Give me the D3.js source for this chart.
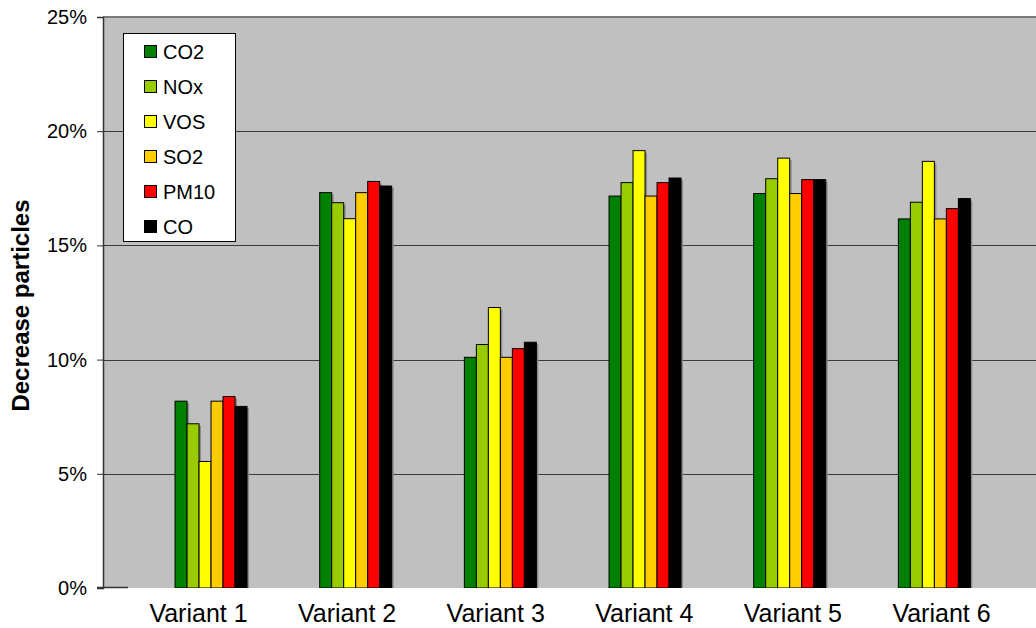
<!DOCTYPE html>
<html>
<head>
<meta charset="utf-8">
<script src="https://cdn.jsdelivr.net/npm/d3@7"></script>
<style>
  body { margin: 0; background: #ffffff; }
  svg { display: block; font-family: "Liberation Sans", Arial, sans-serif; }
</style>
</head>
<body>
<svg id="chart" width="1036" height="628"></svg>
<script>
// Categories, series and values (percent decrease)
const variants = ["Variant 1", "Variant 2", "Variant 3", "Variant 4", "Variant 5", "Variant 6"];
const pollutants = ["CO2", "NOx", "VOS", "SO2", "PM10", "CO"];
const seriesColors = ["#008000", "#99CC00", "#FFFF00", "#FFCC00", "#FF0000", "#000000"];

const co2  = [8.18, 17.31, 10.10, 17.16, 17.27, 16.16];
const nox  = [7.19, 16.87, 10.66, 17.75, 17.92, 16.89];
const vos  = [5.54, 16.17, 12.28, 19.15, 18.82, 18.68];
const so2  = [8.18, 17.31, 10.10, 17.16, 17.27, 16.16];
const pm10 = [8.38, 17.80, 10.48, 17.75, 17.88, 16.61];
const co   = [7.95, 17.60, 10.76, 17.95, 17.88, 17.05];
const seriesValues = [co2, nox, vos, so2, pm10, co];

const yTicks = [0, 5, 10, 15, 20, 25];
const yTitle = "Decrease particles";

const svg = d3.select("#chart");

// Plot area geometry
const plot = { left: 103, right: 1036, top: 17, bottom: 588 };

const y = d3.scaleLinear().domain([0, 25]).range([plot.bottom, plot.top]);

// Bar groups and category labels
const xBars = d3.scaleBand().domain(variants).range([138.7, 1006.7]).paddingInner(0).paddingOuter(0);
const xLabels = d3.scaleBand().domain(variants).range([124.2, 1015.8]);
const xInner = d3.scaleBand().domain(pollutants).range([0, 72]);

// Plot background
svg.append("rect")
  .attr("x", plot.left).attr("y", plot.top)
  .attr("width", plot.right - plot.left).attr("height", plot.bottom - plot.top)
  .attr("fill", "#C0C0C0");

// Horizontal gridlines
svg.append("g").selectAll("line")
  .data(yTicks.filter(t => t > 0 && t < 25))
  .join("line")
  .attr("x1", plot.left).attr("x2", plot.right)
  .attr("y1", d => Math.round(y(d)) + 0.5).attr("y2", d => Math.round(y(d)) + 0.5)
  .attr("stroke", "#3a3a3a").attr("stroke-width", 1);

// Top border of plot area
svg.append("line")
  .attr("x1", plot.left).attr("x2", plot.right)
  .attr("y1", y(25)).attr("y2", y(25))
  .attr("stroke", "#7a7a7a").attr("stroke-width", 2);

// Bars
const rows = [];
variants.forEach((v, i) => {
  pollutants.forEach((p, j) => {
    rows.push({ variant: v, pollutant: p, value: seriesValues[j][i], color: seriesColors[j] });
  });
});

const barGroups = svg.append("g");
// soft drop shadow
barGroups.selectAll("rect.shadow")
  .data(rows)
  .join("rect")
  .attr("class", "shadow")
  .attr("x", d => xBars(d.variant) + (xBars.bandwidth() - 72) / 2 + xInner(d.pollutant) + 2)
  .attr("y", d => y(d.value) + 2)
  .attr("width", xInner.bandwidth())
  .attr("height", d => plot.bottom - y(d.value) - 2)
  .attr("fill", "#8c8c8c");

barGroups.selectAll("rect.bar")
  .data(rows)
  .join("rect")
  .attr("class", "bar")
  .attr("x", d => xBars(d.variant) + (xBars.bandwidth() - 72) / 2 + xInner(d.pollutant))
  .attr("y", d => y(d.value))
  .attr("width", xInner.bandwidth())
  .attr("height", d => plot.bottom - y(d.value))
  .attr("fill", d => d.color)
  .attr("stroke", "#000")
  .attr("stroke-width", 1);

// Y axis
const yAxis = d3.axisLeft(y)
  .tickValues(yTicks)
  .tickFormat(d => d + "%")
  .tickSize(6)
  .tickPadding(10);

const yg = svg.append("g")
  .attr("transform", `translate(${plot.left},0)`)
  .call(yAxis);
yg.select(".domain").attr("stroke", "#333").attr("stroke-width", 1.5);
yg.selectAll(".tick line").attr("stroke", "#333");
yg.selectAll(".tick text")
  .attr("font-size", 20)
  .attr("fill", "#000")
  .style("font-family", "'Liberation Sans', Arial, sans-serif");

// short baseline segment at 0%
svg.append("line")
  .attr("x1", plot.left - 6).attr("x2", 128)
  .attr("y1", y(0) - 0.5).attr("y2", y(0) - 0.5)
  .attr("stroke", "#333").attr("stroke-width", 1.5);

// white strip below plot
svg.append("rect")
  .attr("x", 128).attr("y", plot.bottom)
  .attr("width", 1036 - 128).attr("height", 40)
  .attr("fill", "#fff");

// X axis labels
const xAxis = d3.axisBottom(xLabels).tickSize(0).tickPadding(0);
const xg = svg.append("g")
  .attr("transform", `translate(0,${plot.bottom})`)
  .call(xAxis);
xg.select(".domain").remove();
xg.selectAll(".tick text")
  .attr("y", 34)
  .attr("dy", 0)
  .attr("font-size", 25)
  .attr("fill", "#000")
  .style("font-family", "'Liberation Sans', Arial, sans-serif");

// Y axis title
svg.append("text")
  .attr("transform", `translate(29,${(198 + 413) / 2}) rotate(-90)`)
  .attr("text-anchor", "middle")
  .attr("font-size", 24)
  .attr("font-weight", "bold")
  .text(yTitle);

// Legend
const legend = svg.append("g");
legend.append("rect")
  .attr("x", 123.5).attr("y", 33.5)
  .attr("width", 112).attr("height", 208)
  .attr("fill", "#fff")
  .attr("stroke", "#000")
  .attr("stroke-width", 1);

const legendY = d3.scalePoint().domain(pollutants).range([52, 227]);
const items = legend.selectAll("g.item")
  .data(pollutants.map((p, i) => ({ name: p, color: seriesColors[i] })))
  .join("g")
  .attr("class", "item")
  .attr("transform", d => `translate(0,${legendY(d.name)})`);

items.append("rect")
  .attr("x", 144.5).attr("y", -6.5)
  .attr("width", 12).attr("height", 12)
  .attr("fill", d => d.color)
  .attr("stroke", "#000").attr("stroke-width", 1);

items.append("text")
  .attr("x", 163).attr("y", 7)
  .attr("font-size", 20)
  .attr("fill", "#000")
  .text(d => d.name);
</script>
</body>
</html>
